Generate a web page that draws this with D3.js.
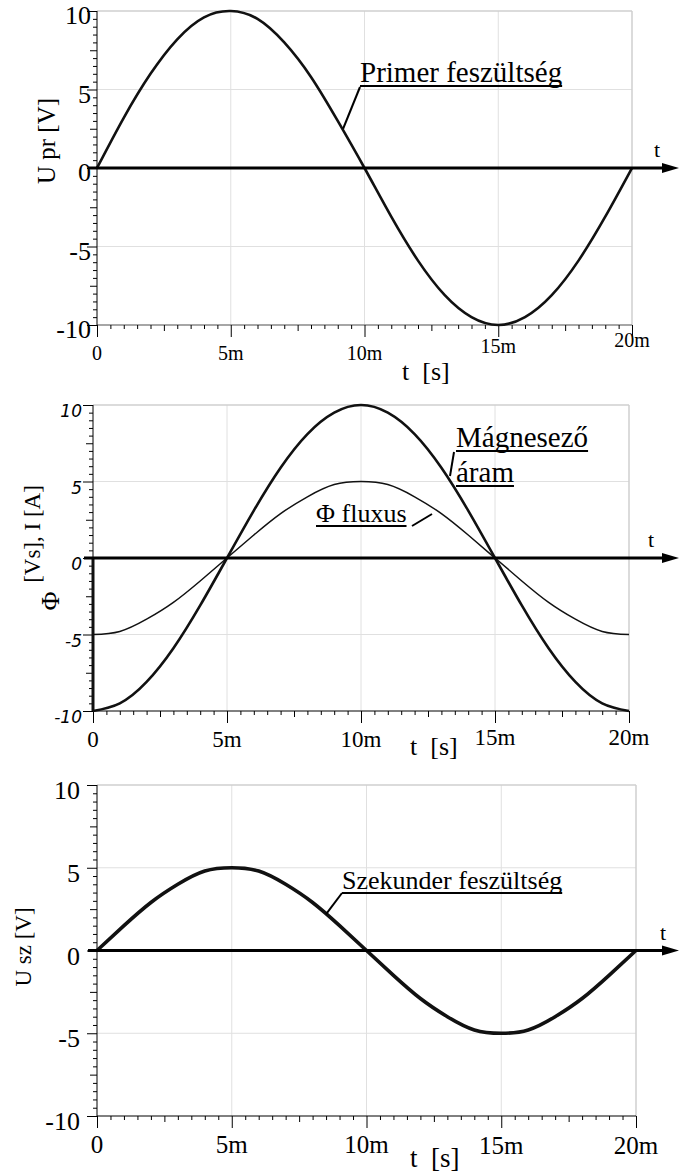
<!DOCTYPE html>
<html>
<head>
<meta charset="utf-8">
<script src="https://cdn.jsdelivr.net/npm/d3@7"></script>
<style>
  body { margin: 0; background: #fff; }
</style>
</head>
<body>
<svg id="chart" width="679" height="1175"></svg>
<script>
// ---- data (t in ms) ----
let tMs      = [0, 1, 2, 3, 4, 5, 6, 7, 8, 9, 10, 11, 12, 13, 14, 15, 16, 17, 18, 19, 20];
let uPrimer  = [0, 3.2, 6.0, 8.2, 9.6, 10.0, 9.5, 8.0, 5.8, 3.0, 0, -3.1, -5.9, -8.1, -9.5, -10.0, -9.5, -8.1, -5.9, -3.1, 0];
let iMagnes  = [-10, -9.5, -8.1, -5.9, -3.1, 0, 3.1, 5.9, 8.1, 9.5, 10, 9.5, 8.1, 5.9, 3.1, 0, -3.1, -5.9, -8.1, -9.5, -10];
let phiFlux  = [-5, -4.8, -4.0, -2.9, -1.5, 0, 1.5, 2.9, 4.0, 4.8, 5, 4.8, 4.0, 2.9, 1.5, 0, -1.5, -2.9, -4.0, -4.8, -5];
let uSzekund = [0, 1.5, 2.9, 4.0, 4.8, 5.0, 4.8, 4.0, 2.9, 1.5, 0, -1.5, -2.9, -4.0, -4.8, -5.0, -4.8, -4.0, -2.9, -1.5, 0];
// bekapcsolási ugrás az áramban t=0-nál
let iJumpT = [0, 0];
let iJumpV = [0, -10];

let xTickVals   = [0, 5, 10, 15, 20];
let xTickLabels = ["0", "5m", "10m", "15m", "20m"];
let yTickVals   = [-10, -5, 0, 5, 10];
let yTickLabels = ["-10", "-5", "0", "5", "10"];

const SERIF = "Liberation Serif";

let svg = d3.select("#chart");
svg.append("rect").attr("width", 679).attr("height", 1175).attr("fill", "#fff");

let toPoints = (ts, vs) => ts.map((t, i) => ({ t: t, v: vs[i] }));

// panel layouts (pixels)
let panels = [
  {
    x0: 97, x1: 632, yT: 11, yB: 325,
    bottomStroke: "#888", bottomWidth: 1.5,
    yFont: 26, yFamily: SERIF, yItalic: false, yLabRight: 91, yLabDy: 13,
    xFont: 20, xBase: [360, 360, 360, 353, 347],
    tLab: { x: 402, y: 380, size: 26 },
    arrowT: { x: 657, y: 157 },
    yTitle: [{ text: "U pr [V]", x: 55, y: 141, size: 25 }],
    series: [{ ts: tMs, vs: uPrimer, w: 2.6 }],
    notes: [{ lines: ["Primer feszültség"], x: 360, y: 82, size: 29, lead: [360, 87, 9.2, 2.5] }]
  },
  {
    x0: 93, x1: 629, yT: 405, yB: 711,
    bottomStroke: "#000", bottomWidth: 1,
    yFont: 17, yFamily: "DejaVu Sans", yItalic: true, yLabRight: 82, yLabDy: 12,
    xFont: 23, xBase: [747, 747, 747, 745, 745],
    tLab: { x: 410, y: 755, size: 26 },
    arrowT: { x: 651, y: 547 },
    yTitle: [{ text: "[Vs], I [A]", x: 40, y: 534, size: 23 }, { text: "Φ", x: 59, y: 601, size: 26 }],
    series: [
      { ts: tMs, vs: iMagnes, w: 2.6 },
      { ts: tMs, vs: phiFlux, w: 1.5 },
      { ts: iJumpT, vs: iJumpV, w: 3 }
    ],
    notes: [
      { lines: ["Mágnesező", "áram"], x: 456, y: 447, size: 29, gap: 35, lead: [454, 452, null, null, 450, 476] },
      { lines: ["Φ fluxus"], x: 316, y: 522, size: 26, leadRaw: [412, 526, 432, 514] }
    ]
  },
  {
    x0: 97, x1: 636, yT: 785, yB: 1116,
    bottomStroke: "#000", bottomWidth: 1,
    yFont: 26, yFamily: SERIF, yItalic: false, yLabRight: 80, yLabDy: 14,
    xFont: 25, xBase: [1153, 1153, 1153, 1154, 1154],
    tLab: { x: 410, y: 1167, size: 27 },
    arrowT: { x: 663, y: 940 },
    yTitle: [{ text: "U sz [V]", x: 31, y: 947, size: 23 }],
    series: [{ ts: tMs, vs: uSzekund, w: 3.6 }],
    notes: [{ lines: ["Szekunder feszültség"], x: 342, y: 889, size: 26, lead: [342, 893, 8.5, 2.2] }]
  }
];

// serif szöveg segéd
let addText = (g, str, size) => g.append("text")
  .attr("font-family", SERIF).attr("font-size", size).attr("fill", "#000").text(str);

let drawPanel = (p) => {
  let x = d3.scaleLinear().domain([0, 20]).range([p.x0, p.x1]);
  let y = d3.scaleLinear().domain([-10, 10]).range([p.yB, p.yT]);
  let g = svg.append("g");

  // halvány rács
  g.selectAll(".gx").data([5, 10, 15]).join("line")
    .attr("x1", d => x(d)).attr("x2", d => x(d))
    .attr("y1", y(10)).attr("y2", y(-10))
    .attr("stroke", "#e0e0e0").attr("stroke-width", 1);
  g.selectAll(".gy").data([5, -5]).join("line")
    .attr("x1", x(0)).attr("x2", x(20))
    .attr("y1", d => y(d)).attr("y2", d => y(d))
    .attr("stroke", "#e0e0e0").attr("stroke-width", 1);
  // felső és jobb keret
  g.append("line").attr("x1", x(0)).attr("x2", x(20)).attr("y1", y(10)).attr("y2", y(10))
    .attr("stroke", "#cfcfcf").attr("stroke-width", 1.5);
  g.append("line").attr("x1", x(20)).attr("x2", x(20)).attr("y1", y(10)).attr("y2", y(-10))
    .attr("stroke", "#cfcfcf").attr("stroke-width", 1.5);

  // alsó tengely
  g.append("line").attr("x1", x(0)).attr("x2", x(20)).attr("y1", y(-10)).attr("y2", y(-10))
    .attr("stroke", p.bottomStroke).attr("stroke-width", p.bottomWidth);
  let xMinor = d3.range(0, 20.01, 0.5).filter(d => d % 2.5 !== 0);
  let xMid = [2.5, 7.5, 12.5, 17.5];
  let tickAxis = (gen, size, vals, tr) => {
    g.append("g").attr("transform", tr)
      .call(gen.tickValues(vals).tickSize(size).tickFormat(""))
      .call(s => s.select(".domain").remove())
      .call(s => s.selectAll("line").attr("stroke", "#000").attr("stroke-width", 1));
  };
  tickAxis(d3.axisBottom(x), 4, xMinor, `translate(0,${y(-10)})`);
  tickAxis(d3.axisBottom(x), 6, xMid, `translate(0,${y(-10)})`);
  tickAxis(d3.axisBottom(x), 12, xTickVals, `translate(0,${y(-10)})`);

  xTickVals.forEach((d, i) => {
    addText(g, xTickLabels[i], p.xFont)
      .attr("x", x(d)).attr("y", p.xBase[i]).attr("text-anchor", "middle");
  });

  addText(g, "t  [s]", p.tLab.size)
    .attr("x", p.tLab.x).attr("y", p.tLab.y).attr("xml:space", "preserve")
    .style("white-space", "pre");

  // bal tengely
  g.append("line").attr("x1", x(0)).attr("x2", x(0)).attr("y1", y(10)).attr("y2", y(-10))
    .attr("stroke", "#000").attr("stroke-width", 1);
  let yMinor = d3.range(-10, 10.01, 0.5).filter(d => d % 2.5 !== 0);
  let yMid = [-7.5, -2.5, 2.5, 7.5];
  tickAxis(d3.axisLeft(y), 4, yMinor, `translate(${x(0)},0)`);
  tickAxis(d3.axisLeft(y), 7, yMid, `translate(${x(0)},0)`);
  tickAxis(d3.axisLeft(y), 10, yTickVals, `translate(${x(0)},0)`);

  yTickVals.forEach((d, i) => {
    addText(g, yTickLabels[i], p.yFont)
      .attr("font-family", p.yFamily)
      .attr("font-style", p.yItalic ? "italic" : "normal")
      .attr("x", p.yLabRight).attr("y", y(d) + p.yLabDy).attr("text-anchor", "end");
  });

  p.yTitle.forEach(tt => {
    addText(g, tt.text, tt.size)
      .attr("transform", `translate(${tt.x},${tt.y}) rotate(-90)`)
      .attr("text-anchor", "middle");
  });

  // görbék
  let line = d3.line().x(d => x(d.t)).y(d => y(d.v)).curve(d3.curveNatural);
  let straight = d3.line().x(d => x(d.t)).y(d => y(d.v));
  p.series.forEach(s => {
    g.append("path").datum(toPoints(s.ts, s.vs))
      .attr("d", s.ts[0] === s.ts[1] ? straight : line)
      .attr("fill", "none").attr("stroke", "#111").attr("stroke-width", s.w)
      .attr("stroke-linejoin", "round");
  });

  // t tengely nyíllal
  g.append("line").attr("x1", x(0) - 9).attr("x2", 664).attr("y1", y(0)).attr("y2", y(0))
    .attr("stroke", "#000").attr("stroke-width", 3);
  g.append("path")
    .attr("d", `M662,${y(0) - 5}L679,${y(0)}L662,${y(0) + 5}Z`)
    .attr("fill", "#000");
  addText(g, "t", 22).attr("x", p.arrowT.x).attr("y", p.arrowT.y).attr("text-anchor", "middle");

  // feliratok aláhúzással
  p.notes.forEach(n => {
    n.lines.forEach((ln, k) => {
      let by = n.y + k * (n.gap || 0);
      let txt = addText(g, ln, n.size).attr("x", n.x).attr("y", by);
      let w = txt.node().getComputedTextLength();
      g.append("line").attr("x1", n.x).attr("x2", n.x + w)
        .attr("y1", by + 4).attr("y2", by + 4)
        .attr("stroke", "#000").attr("stroke-width", 2);
    });
    let l = null;
    if (n.leadRaw) l = n.leadRaw;
    else if (n.lead[2] !== null) l = [n.lead[0], n.lead[1], x(n.lead[2]), y(n.lead[3])];
    else l = [n.lead[0], n.lead[1], n.lead[4], n.lead[5]];
    g.append("line").attr("x1", l[0]).attr("y1", l[1]).attr("x2", l[2]).attr("y2", l[3])
      .attr("stroke", "#000").attr("stroke-width", 2);
  });
};

panels.forEach(drawPanel);
</script>
</body>
</html>
